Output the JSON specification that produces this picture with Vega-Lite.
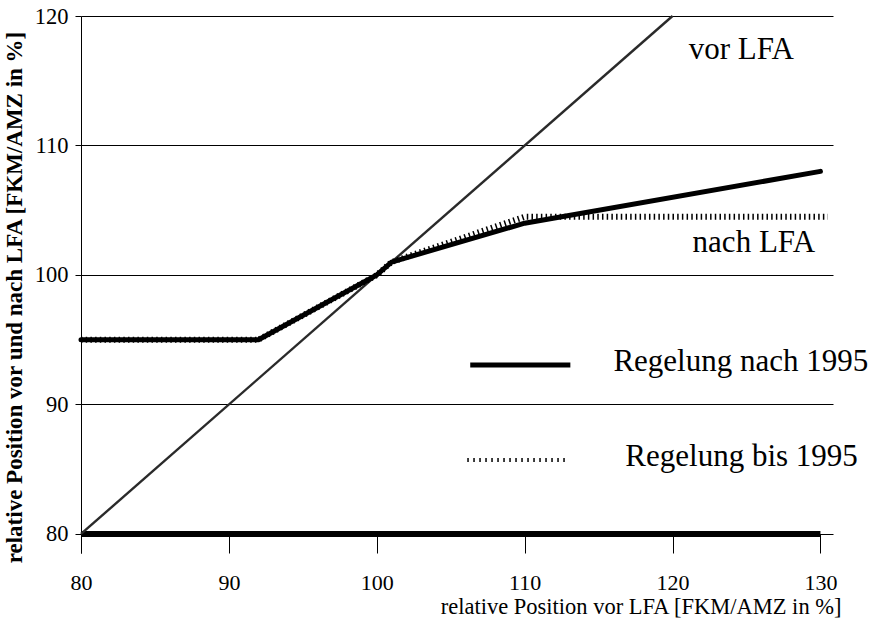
{
  "$schema": "https://vega.github.io/schema/vega-lite/v6.json",
  "width": 752,
  "height": 537,
  "autosize": {"type": "none"},
  "padding": {"left": 81, "top": 16, "right": 49, "bottom": 67},
  "background": "white",
  "config": {
    "view": {"stroke": null},
    "font": "Liberation Serif",
    "axis": {"labelFont": "Liberation Serif", "titleFont": "Liberation Serif", "labelColor": "black", "titleColor": "black", "domainColor": "black", "tickColor": "black", "gridColor": "black", "gridOpacity": 1}
  },
  "datasets": {
    "lines": [
      {"series": "Basis", "x": 80, "y": 80},
      {"series": "Basis", "x": 130, "y": 80},
      {"series": "vor LFA", "x": 80, "y": 80},
      {"series": "vor LFA", "x": 120, "y": 120},
      {"series": "Regelung bis 1995", "x": 80, "y": 95},
      {"series": "Regelung bis 1995", "x": 92, "y": 95},
      {"series": "Regelung bis 1995", "x": 100, "y": 100},
      {"series": "Regelung bis 1995", "x": 101, "y": 101},
      {"series": "Regelung bis 1995", "x": 110, "y": 104.5},
      {"series": "Regelung bis 1995", "x": 130.5, "y": 104.5},
      {"series": "Regelung nach 1995", "x": 80, "y": 95},
      {"series": "Regelung nach 1995", "x": 92, "y": 95},
      {"series": "Regelung nach 1995", "x": 100, "y": 100},
      {"series": "Regelung nach 1995", "x": 101, "y": 101},
      {"series": "Regelung nach 1995", "x": 110, "y": 104},
      {"series": "Regelung nach 1995", "x": 130, "y": 108}
    ],
    "legendLines": [
      {"series": "Regelung nach 1995", "x": 106.32, "y": 93.05},
      {"series": "Regelung nach 1995", "x": 113.09, "y": 93.05},
      {"series": "Regelung bis 1995", "x": 106.12, "y": 85.71},
      {"series": "Regelung bis 1995", "x": 112.95, "y": 85.71}
    ],
    "centerLabels": [
      {"label": "vor LFA", "x": 124.65, "y": 117.37},
      {"label": "nach LFA", "x": 125.5, "y": 102.47}
    ],
    "legendLabels": [
      {"label": "Regelung nach 1995", "x": 116.0, "y": 93.28},
      {"label": "Regelung bis 1995", "x": 116.81, "y": 85.95}
    ]
  },
  "layer": [
    {
      "data": {"name": "lines"},
      "transform": [{"filter": "datum.series === 'Basis'"}],
      "mark": {"type": "line", "color": "black", "strokeWidth": 6, "strokeCap": "butt", "clip": false},
      "encoding": {
        "x": {"field": "x", "type": "quantitative", "scale": {"domain": [80, 130.85], "nice": false, "zero": false},
          "axis": {"values": [80, 90, 100, 110, 120, 130], "offset": -19, "tickSize": 19, "domain": false, "grid": false, "labelFlush": false,
            "labelFontSize": 22, "labelPadding": 19, "title": "relative Position vor LFA [FKM/AMZ in %]", "titleFontSize": 22.5, "titleFontWeight": "normal", "titleAnchor": "end", "titleX": 760, "titlePadding": 2}},
        "y": {"field": "y", "type": "quantitative", "scale": {"domain": [78.53, 120], "nice": false, "zero": false},
          "axis": {"values": [80, 90, 100, 110, 120], "tickSize": 6, "grid": true, "gridWidth": 1, "labelFontSize": 22.5, "labelPadding": 7,
            "title": "relative Position vor und nach LFA [FKM/AMZ in %]", "titleFontSize": 23, "titleFontWeight": "bold", "titlePadding": 8, "titleY": 281}},
        "detail": {"field": "series"}
      }
    },
    {
      "data": {"name": "lines"},
      "transform": [{"filter": "datum.series === 'vor LFA'"}],
      "mark": {"type": "line", "color": "#2a2a2a", "strokeWidth": 2.4},
      "encoding": {
        "x": {"field": "x", "type": "quantitative"},
        "y": {"field": "y", "type": "quantitative"}
      }
    },
    {
      "data": {"name": "lines"},
      "transform": [{"filter": "datum.series === 'Regelung bis 1995'"}],
      "mark": {"type": "line", "color": "black", "strokeWidth": 6, "strokeDash": [1.5, 3.2], "strokeCap": "butt", "clip": false},
      "encoding": {
        "x": {"field": "x", "type": "quantitative"},
        "y": {"field": "y", "type": "quantitative"}
      }
    },
    {
      "data": {"name": "lines"},
      "transform": [{"filter": "datum.series === 'Regelung nach 1995'"}],
      "mark": {"type": "line", "color": "black", "strokeWidth": 5, "strokeCap": "round", "strokeJoin": "round"},
      "encoding": {
        "x": {"field": "x", "type": "quantitative"},
        "y": {"field": "y", "type": "quantitative"}
      }
    },
    {
      "data": {"name": "legendLines"},
      "transform": [{"filter": "datum.series === 'Regelung nach 1995'"}],
      "mark": {"type": "line", "color": "black", "strokeWidth": 5, "strokeCap": "butt"},
      "encoding": {
        "x": {"field": "x", "type": "quantitative"},
        "y": {"field": "y", "type": "quantitative"}
      }
    },
    {
      "data": {"name": "legendLines"},
      "transform": [{"filter": "datum.series === 'Regelung bis 1995'"}],
      "mark": {"type": "line", "color": "black", "strokeWidth": 4, "strokeDash": [1.5, 4.5], "strokeCap": "butt"},
      "encoding": {
        "x": {"field": "x", "type": "quantitative"},
        "y": {"field": "y", "type": "quantitative"}
      }
    },
    {
      "data": {"name": "centerLabels"},
      "mark": {"type": "text", "font": "Liberation Serif", "fontSize": 31, "align": "center", "baseline": "middle", "color": "black"},
      "encoding": {
        "x": {"field": "x", "type": "quantitative"},
        "y": {"field": "y", "type": "quantitative"},
        "text": {"field": "label"}
      }
    },
    {
      "data": {"name": "legendLabels"},
      "mark": {"type": "text", "font": "Liberation Serif", "fontSize": 31, "align": "left", "baseline": "middle", "color": "black"},
      "encoding": {
        "x": {"field": "x", "type": "quantitative"},
        "y": {"field": "y", "type": "quantitative"},
        "text": {"field": "label"}
      }
    }
  ]
}
